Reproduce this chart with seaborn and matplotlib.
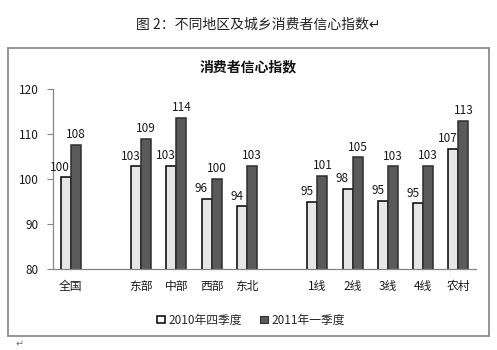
import matplotlib
matplotlib.use("Agg")
import matplotlib.pyplot as plt
from matplotlib.patches import Patch, Rectangle
import seaborn as sns
import pandas as pd

sns.set_style("white")
plt.rcParams["font.family"] = ["Noto Sans CJK SC", "DejaVu Sans"]

# Category slots (blank entries leave gaps between groups)
categories = ["全国", " ", "东部", "中部", "西部", "东北", "  ", "1线", "2线", "3线", "4线", "农村"]
regions = ["全国", "东部", "中部", "西部", "东北", "1线", "2线", "3线", "4线", "农村"]
series_names = ["2010年四季度", "2011年一季度"]
q4_2010 = [100.4, 102.8, 103.0, 95.6, 93.9, 94.9, 97.8, 95.2, 94.6, 106.7]
q1_2011 = [107.6, 109.0, 113.6, 100.1, 103.0, 100.7, 104.8, 102.8, 103.0, 113.0]
y_ticks = [80, 90, 100, 110, 120]

df = pd.DataFrame({
    "region": regions * 2,
    "series": [series_names[0]] * len(regions) + [series_names[1]] * len(regions),
    "value": q4_2010 + q1_2011,
})

light = "#e6e6e6"
dark = "#5a5a5a"

fig = plt.figure(figsize=(4.97, 3.5), dpi=100)

# outer frame around the chart
fig.patches.append(Rectangle((8 / 497, 1 - 336 / 350), (489 - 8) / 497, (336 - 48) / 350,
                             transform=fig.transFigure, fill=False,
                             edgecolor="#8c8c8c", linewidth=1.3))

ax = fig.add_axes([53 / 497, 1 - 269 / 350, (476 - 53) / 497, (269 - 89) / 350])
sns.barplot(data=df, x="region", y="value", hue="series", order=categories,
            hue_order=series_names, palette=[light, dark], width=0.57,
            edgecolor="black", linewidth=1.1, dodge=True, ax=ax, legend=False)

for p in ax.patches:
    p.set_edgecolor("black" if p.get_facecolor()[0] > 0.6 else "#2e2e2e")

# value labels; the lighter series' labels sit slightly to the left
for i, cont in enumerate(ax.containers):
    labels = ax.bar_label(cont, fmt="%.0f", padding=2.5, fontsize=8.5, color="#1a1a1a")
    if i == 0:
        for lab in labels:
            lab.xyann = (-3.8, 2.5)

ax.set_ylim(80, 120)
ax.set_yticks(y_ticks)
ax.set_xlim(-0.5, len(categories) - 0.5)
ax.set_xlabel("")
ax.set_ylabel("")
ax.set_xticks(range(len(categories)))
ax.set_xticklabels(categories)
ax.set_xticks([i - 0.5 for i in range(len(categories) + 1)], minor=True)
ax.tick_params(axis="x", which="major", length=0, pad=8, labelsize=8.5, labelcolor="#1a1a1a")
ax.tick_params(axis="x", which="minor", length=4, direction="out", color="#868686", width=0.8)
ax.tick_params(axis="y", length=4, direction="out", color="#868686", width=0.8,
               labelsize=8.5, labelcolor="#1a1a1a", pad=6, left=True)
for side in ["top", "right"]:
    ax.spines[side].set_visible(False)
for side in ["left", "bottom"]:
    ax.spines[side].set_color("#868686")
    ax.spines[side].set_linewidth(0.9)

fig.text(248 / 497, 1 - 67 / 350, "消费者信心指数", ha="center", va="center",
         fontsize=10, fontweight="bold", color="#111111")
fig.text(258 / 497, 1 - 25 / 350, "图 2：不同地区及城乡消费者信心指数↵", ha="center",
         va="center", fontsize=10, color="#222222")
fig.text(20 / 497, 1 - 344 / 350, "↵", ha="center", va="center", fontsize=7, color="#777777")

handles = [Patch(facecolor="white", edgecolor="black", linewidth=1.1),
           Patch(facecolor=dark, edgecolor="#2e2e2e", linewidth=0.8)]
fig.legend(handles, series_names, loc="center", bbox_to_anchor=(251 / 497, 1 - 320 / 350),
           ncol=2, frameon=False, fontsize=8.5, handlelength=0.6, handleheight=0.6,
           handletextpad=0.3, columnspacing=1.6)

fig.savefig("out.png", dpi=100)
